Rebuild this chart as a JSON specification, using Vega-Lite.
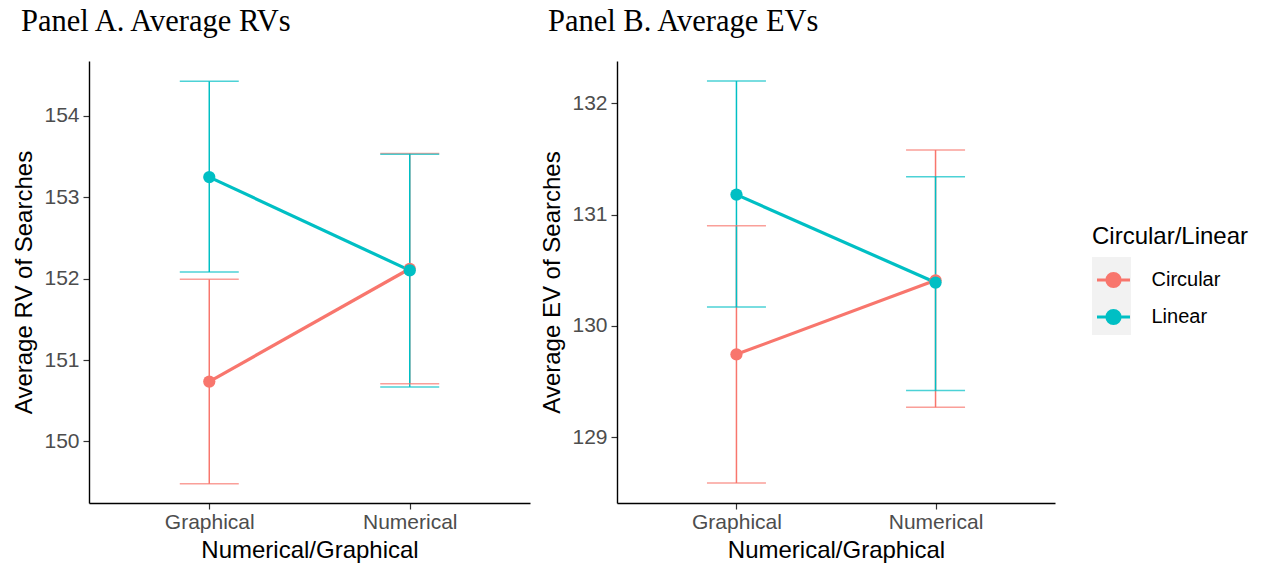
{
  "$schema": "https://vega.github.io/schema/vega-lite/v6.json",
  "background": "white",
  "padding": {"left": 12, "top": 6, "right": 5, "bottom": 5},
  "data": {"values": [
    {"panel": "A", "format": "Graphical", "type": "Circular", "mean": 150.735, "lo": 149.48, "hi": 151.99},
    {"panel": "A", "format": "Graphical", "type": "Linear", "mean": 153.245, "lo": 152.08, "hi": 154.42},
    {"panel": "A", "format": "Numerical", "type": "Circular", "mean": 152.12, "lo": 150.71, "hi": 153.535},
    {"panel": "A", "format": "Numerical", "type": "Linear", "mean": 152.10, "lo": 150.67, "hi": 153.525},
    {"panel": "B", "format": "Graphical", "type": "Circular", "mean": 129.745, "lo": 128.59, "hi": 130.9},
    {"panel": "B", "format": "Graphical", "type": "Linear", "mean": 131.18, "lo": 130.17, "hi": 132.2},
    {"panel": "B", "format": "Numerical", "type": "Circular", "mean": 130.41, "lo": 129.27, "hi": 131.58},
    {"panel": "B", "format": "Numerical", "type": "Linear", "mean": 130.39, "lo": 129.42, "hi": 131.34}
  ]},
  "spacing": 87,
  "bounds": "flush",
  "resolve": {"scale": {"y": "independent"}},
  "hconcat": [
    {
      "width": 441, "height": 442,
      "transform": [{"filter": "datum.panel === 'A'"}],
      "title": {"text": "Panel A. Average RVs", "anchor": "start", "dx": 8, "offset": 24},
      "encoding": {
        "x": {"field": "format", "type": "nominal", "scale": {"type": "point", "padding": 0.6}, "axis": {"title": "Numerical/Graphical", "labelAngle": 0}},
        "color": {"field": "type", "type": "nominal", "scale": {"domain": ["Circular", "Linear"], "range": ["#F8766D", "#00BFC4"]}, "title": "Circular/Linear",
          "legend": {"zindex": 2}}
      },
      "layer": [
        {"mark": {"type": "rule", "strokeWidth": 1.5}, "encoding": {"y": {"field": "lo", "type": "quantitative", "title": "Average RV of Searches", "scale": {"domain": [149.245, 154.67], "nice": false, "zero": false}, "axis": {"values": [150, 151, 152, 153, 154], "format": "d"}}, "y2": {"field": "hi"}}},
        {"mark": {"type": "tick", "size": 59, "thickness": 1.5}, "encoding": {"y": {"field": "lo", "type": "quantitative", "title": "Average RV of Searches"}}},
        {"mark": {"type": "tick", "size": 59, "thickness": 1.5}, "encoding": {"y": {"field": "hi", "type": "quantitative", "title": "Average RV of Searches"}}},
        {"mark": {"type": "line", "strokeWidth": 3.2}, "encoding": {"y": {"field": "mean", "type": "quantitative", "title": "Average RV of Searches"}}},
        {"mark": {"type": "point", "filled": true, "size": 150, "opacity": 1}, "encoding": {"y": {"field": "mean", "type": "quantitative", "title": "Average RV of Searches"}}}
      ]
    },
    {
      "width": 438, "height": 442,
      "transform": [{"filter": "datum.panel === 'B'"}],
      "title": {"text": "Panel B. Average EVs", "anchor": "start", "dx": 7, "offset": 24},
      "encoding": {
        "x": {"field": "format", "type": "nominal", "scale": {"type": "point", "padding": 0.6}, "axis": {"title": "Numerical/Graphical", "labelAngle": 0}},
        "color": {"field": "type", "type": "nominal", "scale": {"domain": ["Circular", "Linear"], "range": ["#F8766D", "#00BFC4"]}, "title": "Circular/Linear",
          "legend": {"zindex": 2}}
      },
      "layer": [
        {"mark": {"type": "rule", "strokeWidth": 1.5}, "encoding": {"y": {"field": "lo", "type": "quantitative", "title": "Average EV of Searches", "scale": {"domain": [128.41, 132.38], "nice": false, "zero": false}, "axis": {"values": [129, 130, 131, 132], "format": "d"}}, "y2": {"field": "hi"}}},
        {"mark": {"type": "tick", "size": 59, "thickness": 1.5}, "encoding": {"y": {"field": "lo", "type": "quantitative", "title": "Average EV of Searches"}}},
        {"mark": {"type": "tick", "size": 59, "thickness": 1.5}, "encoding": {"y": {"field": "hi", "type": "quantitative", "title": "Average EV of Searches"}}},
        {"mark": {"type": "line", "strokeWidth": 3.2}, "encoding": {"y": {"field": "mean", "type": "quantitative", "title": "Average EV of Searches"}}},
        {"mark": {"type": "point", "filled": true, "size": 150, "opacity": 1}, "encoding": {"y": {"field": "mean", "type": "quantitative", "title": "Average EV of Searches"}}},
        {
          "data": {"values": [
            {"format": "Graphical", "type": "Circular", "key": "k1"},
            {"format": "Graphical", "type": "Linear", "key": "k2"}
          ]},
          "mark": {"type": "point", "filled": true, "opacity": 0},
          "encoding": {
            "shape": {"field": "key", "type": "nominal", "scale": {"domain": ["k1", "k2"], "range": ["square", "square"]},
              "legend": {"title": null, "orient": "none", "legendX": 1003, "legendY": 196, "zindex": 0,
                "symbolSize": 1521, "symbolOffset": 0, "rowPadding": 0, "labelFontSize": 1, "labelOffset": 0, "labelExpr": "''",
                "symbolStrokeWidth": 0, "symbolOpacity": 1, "symbolFillColor": "#f2f2f2", "symbolStrokeColor": "#f2f2f2"}}
          }
        }
      ]
    }
  ],
  "config": {
    "view": {"stroke": null},
    "title": {"font": "Liberation Serif", "fontSize": 30.5, "fontWeight": "normal", "color": "#000000"},
    "axis": {
      "grid": false,
      "domainColor": "#000000", "domainWidth": 1.4,
      "tickColor": "#333333", "tickSize": 6, "tickWidth": 1.2,
      "labelFont": "Liberation Sans", "labelFontSize": 21, "labelColor": "#4d4d4d",
      "titleFont": "Liberation Sans", "titleFontSize": 24, "titleFontWeight": "normal", "titleColor": "#000000"
    },
    "axisX": {"titlePadding": 6, "labelPadding": 2},
    "axisY": {"titlePadding": 7, "labelPadding": 4},
    "legend": {
      "orient": "none", "legendX": 1003, "legendY": 164,
      "titleFont": "Liberation Sans", "titleFontSize": 24, "titleFontWeight": "normal", "titleColor": "#000000", "titlePadding": 13,
      "labelFont": "Liberation Sans", "labelFontSize": 20, "labelColor": "#000000", "labelOffset": 20,
      "symbolType": "M -1 0 L 1 0 M 0.4 0 A 0.4 0.4 0 1 1 -0.4 0 A 0.4 0.4 0 1 1 0.4 0 Z",
      "symbolSize": 1089, "symbolStrokeWidth": 3, "symbolOffset": 3.5, "symbolOpacity": 1, "rowPadding": 6, "padding": 0
    }
  }
}
